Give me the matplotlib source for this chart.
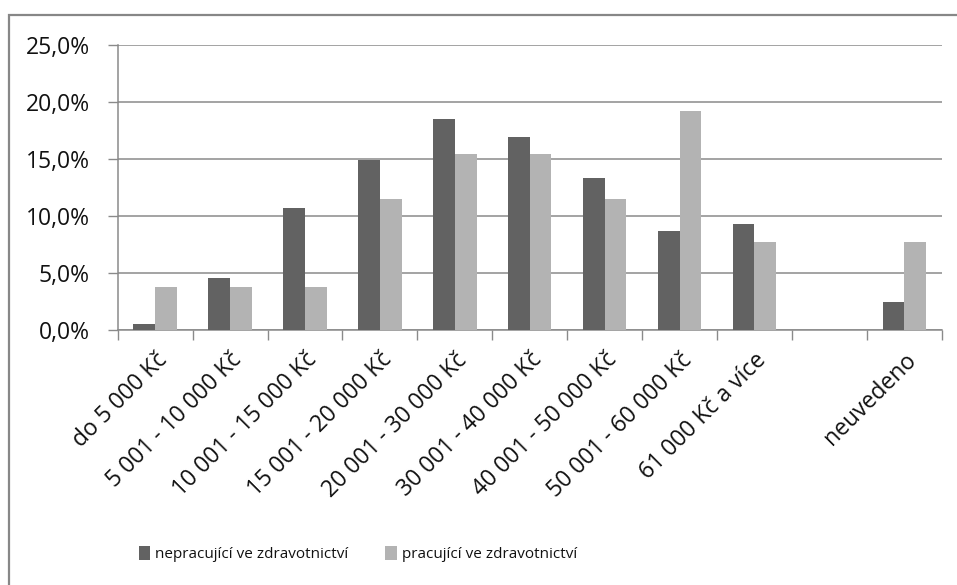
import matplotlib
matplotlib.use("Agg")
import matplotlib.pyplot as plt
import numpy as np
from matplotlib.patches import Rectangle, Patch
from matplotlib.ticker import FixedLocator, FuncFormatter

categories = [
    "do 5 000 Kč", "5 001 - 10 000 Kč", "10 001 - 15 000 Kč",
    "15 001 - 20 000 Kč", "20 001 - 30 000 Kč", "30 001 - 40 000 Kč",
    "40 001 - 50 000 Kč", "50 001 - 60 000 Kč", "61 000 Kč a více",
    "", "neuvedeno",
]
series_names = ["nepracující ve zdravotnictví", "pracující ve zdravotnictví"]
nepracujici = [0.5, 4.6, 10.7, 14.9, 18.5, 16.9, 13.3, 8.7, 9.3, 0.0, 2.5]
pracujici = [3.8, 3.8, 3.8, 11.5, 15.4, 15.4, 11.5, 19.2, 7.7, 0.0, 7.7]
y_ticks = [0, 5, 10, 15, 20, 25]

plt.rcParams["font.family"] = ["Open Sans", "DejaVu Sans"]

W, H, DPI = 957, 585, 100
fig = plt.figure(figsize=(W / DPI, H / DPI), dpi=DPI)
fig.patch.set_facecolor("white")

# chart frame (top and left edges visible)
fig.add_artist(Rectangle((9 / W, -0.05), 1.2, 1 - 15 / H + 0.05,
                         transform=fig.transFigure, fill=False,
                         edgecolor="#878787", linewidth=1.6))

ax = fig.add_axes([117.7 / W, 1 - 330 / H, (941.7 - 117.7) / W, (330 - 45) / H])

x = np.arange(len(categories))
bw = 0.29
dark, light = "#626262", "#b3b3b3"
ax.bar(x - bw / 2, nepracujici, bw, color=dark, zorder=3, edgecolor="none")
ax.bar(x + bw / 2, pracujici, bw, color=light, zorder=3, edgecolor="none")

ax.set_xlim(-0.5, len(categories) - 0.5)
ax.set_ylim(0, 25)
ax.set_yticks(y_ticks)
ax.yaxis.set_major_formatter(FuncFormatter(lambda v, p: f"{v:.1f}%".replace(".", ",")))
ax.yaxis.grid(True, color="#8a8a8a", linewidth=1.1, zorder=0)
ax.set_axisbelow(True)

ax.set_xticks(x)
ax.set_xticklabels(categories, rotation=45, ha="right", va="top",
                   rotation_mode="anchor", fontsize=16.5, color="#111111")
ax.tick_params(axis="x", which="major", length=0, pad=13)
ax.xaxis.set_minor_locator(FixedLocator(np.arange(-0.5, len(categories), 1.0)))
ax.tick_params(axis="x", which="minor", length=7, width=1, color="#8a8a8a")
ax.tick_params(axis="y", length=7, width=1, color="#8a8a8a", pad=13,
               labelsize=16.5, labelcolor="#111111")

for s in ["top", "right"]:
    ax.spines[s].set_visible(False)
for s in ["left", "bottom"]:
    ax.spines[s].set_color("#8a8a8a")
    ax.spines[s].set_linewidth(1.1)

handles = [Patch(facecolor=dark, edgecolor="none"), Patch(facecolor=light, edgecolor="none")]
fig.legend(handles, series_names, loc="center", bbox_to_anchor=(358 / W, 1 - 554 / H),
           ncol=2, frameon=False, handlelength=0.75, handleheight=1.0,
           handletextpad=0.35, columnspacing=2.4, fontsize=11, labelcolor="#111111")

fig.savefig("out.png", dpi=DPI)
